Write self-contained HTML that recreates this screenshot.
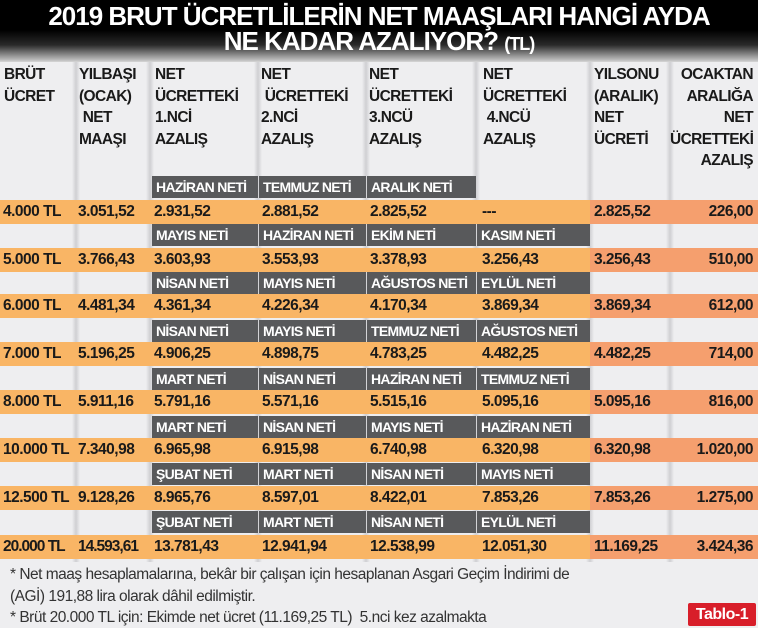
<!DOCTYPE html>
<html><head><meta charset="utf-8"><style>
*{margin:0;padding:0;box-sizing:border-box}
body{width:770px;height:628px;background:#fff;position:relative;overflow:hidden;font-family:"Liberation Sans Narrow","Liberation Sans","DejaVu Sans Condensed",sans-serif;font-weight:bold;color:#1a1a1a}
.a{position:absolute}
#bg{left:0;top:0;width:758px;height:628px;background:#eeeef0}
#title{left:0;top:0;width:758px;height:62px;background:linear-gradient(#000 0,#000 30px,#2a2a2a 45px,#bdbdbd 60px,#eeeef0 64px)}
.t{color:#fff;text-align:center;width:758px;font-size:26px;line-height:26px;letter-spacing:-1px}
.col{top:58px;height:504px}
.h{font-size:15.5px;line-height:21.5px;top:64px;letter-spacing:-0.6px}
.lab{background:#58595b;color:#fff;font-size:14px;height:22px;line-height:22px;padding-left:4px;white-space:nowrap;letter-spacing:-0.7px;overflow:hidden}
.or{background:#f9b565;height:24px;left:0;width:758px}
.sa{background:#f59f6e;height:24px}
.v{font-size:15.5px;line-height:24px;white-space:nowrap;letter-spacing:-0.5px}
.r{text-align:right}
.fn{font-weight:normal;font-size:15.5px;color:#333;line-height:21px;letter-spacing:-0.5px}
</style></head><body>
<div class="a" id="bg"></div>
<div class="a col" style="left:72px;width:8px;background:linear-gradient(90deg,#eeeef0,#cfcfd2,#eeeef0)"></div>
<div class="a col" style="left:146px;width:8px;background:linear-gradient(90deg,#eeeef0,#cfcfd2,#eeeef0)"></div>
<div class="a col" style="left:254px;width:8px;background:linear-gradient(90deg,#eeeef0,#cfcfd2,#eeeef0)"></div>
<div class="a col" style="left:362px;width:8px;background:linear-gradient(90deg,#eeeef0,#cfcfd2,#eeeef0)"></div>
<div class="a col" style="left:472px;width:8px;background:linear-gradient(90deg,#eeeef0,#cfcfd2,#eeeef0)"></div>
<div class="a col" style="left:586px;width:8px;background:linear-gradient(90deg,#eeeef0,#cfcfd2,#eeeef0)"></div>
<div class="a col" style="left:666px;width:8px;background:linear-gradient(90deg,#eeeef0,#cfcfd2,#eeeef0)"></div>
<div class="a" id="title"></div>
<div class="a t" style="top:3px">2019 BRUT ÜCRETLİLERİN NET MAAŞLARI HANGİ AYDA</div>
<div class="a t" style="top:28px">NE KADAR AZALIYOR? <span style="font-size:18px">(TL)</span></div>

<div class="a h" style="left:4px">BRÜT<br>ÜCRET</div>
<div class="a h" style="left:79px">YILBAŞI<br>(OCAK)<br>&nbsp;NET<br>MAAŞI</div>
<div class="a h" style="left:155px">NET<br>ÜCRETTEKİ<br>1.NCİ<br>AZALIŞ</div>
<div class="a h" style="left:261px">NET<br>&nbsp;ÜCRETTEKİ<br>2.NCİ<br>AZALIŞ</div>
<div class="a h" style="left:369px">NET<br>ÜCRETTEKİ<br>3.NCÜ<br>AZALIŞ</div>
<div class="a h" style="left:483px">NET<br>ÜCRETTEKİ<br>&nbsp;4.NCÜ<br>AZALIŞ</div>
<div class="a h" style="left:594px">YILSONU<br>(ARALIK)<br>NET<br>ÜCRETİ</div>
<div class="a h r" style="left:670px;width:83px">OCAKTAN<br>ARALIĞA<br>NET<br>ÜCRETTEKİ<br>AZALIŞ</div>

<div id="rows"></div>
<script>
var rows=[
["4.000 TL","3.051,52","2.931,52","2.881,52","2.825,52","---","2.825,52","226,00",["HAZİRAN NETİ","TEMMUZ NETİ","ARALIK NETİ",null]],
["5.000 TL","3.766,43","3.603,93","3.553,93","3.378,93","3.256,43","3.256,43","510,00",["MAYIS NETİ","HAZİRAN NETİ","EKİM NETİ","KASIM NETİ"]],
["6.000 TL","4.481,34","4.361,34","4.226,34","4.170,34","3.869,34","3.869,34","612,00",["NİSAN NETİ","MAYIS NETİ","AĞUSTOS NETİ","EYLÜL NETİ"]],
["7.000 TL","5.196,25","4.906,25","4.898,75","4.783,25","4.482,25","4.482,25","714,00",["NİSAN NETİ","MAYIS NETİ","TEMMUZ NETİ","AĞUSTOS NETİ"]],
["8.000 TL","5.911,16","5.791,16","5.571,16","5.515,16","5.095,16","5.095,16","816,00",["MART NETİ","NİSAN NETİ","HAZİRAN NETİ","TEMMUZ NETİ"]],
["10.000 TL","7.340,98","6.965,98","6.915,98","6.740,98","6.320,98","6.320,98","1.020,00",["MART NETİ","NİSAN NETİ","MAYIS NETİ","HAZİRAN NETİ"]],
["12.500 TL","9.128,26","8.965,76","8.597,01","8.422,01","7.853,26","7.853,26","1.275,00",["ŞUBAT NETİ","MART NETİ","NİSAN NETİ","MAYIS NETİ"]],
["20.000 TL","14.593,61","13.781,43","12.941,94","12.538,99","12.051,30","11.169,25","3.424,36",["ŞUBAT NETİ","MART NETİ","NİSAN NETİ","EYLÜL NETİ"]]];
var lt=[176,224,272,320,368,416,463,511],ot=[200,248,294,342,390,438,486,535];
var lx=[[152,258],[259,366],[367,476],[477,590]];
var vx=[3,78,154,262,370,482,594];
var h="";
rows.forEach(function(r,i){
 r[8].forEach(function(l,j){if(l)h+='<div class="a lab" style="top:'+lt[i]+'px;left:'+lx[j][0]+'px;width:'+(lx[j][1]-lx[j][0])+'px">'+l+'</div>';});
 h+='<div class="a or" style="top:'+ot[i]+'px"></div><div class="a sa" style="top:'+ot[i]+'px;left:590px;width:168px"></div>';
 for(var k=0;k<7;k++)h+='<div class="a v" style="top:'+ot[i]+'px;left:'+vx[k]+'px;'+(i==7&&k<2?'letter-spacing:-1px':'')+'">'+r[k]+'</div>';
 h+='<div class="a v r" style="top:'+ot[i]+'px;left:670px;width:83px">'+r[7]+'</div>';
});
document.getElementById("rows").innerHTML=h;
</script>
<div class="a fn" style="left:10px;top:564px">* Net maaş hesaplamalarına, bekâr bir çalışan için hesaplanan Asgari Geçim İndirimi de</div>
<div class="a fn" style="left:10px;top:586px">(AGİ) 191,88 lira olarak dâhil edilmiştir.</div>
<div class="a fn" style="left:10px;top:607px">* Brüt 20.000 TL için: Ekimde net ücret (11.169,25 TL)&nbsp; 5.nci kez azalmakta</div>
<div class="a" style="left:688px;top:603px;width:68px;height:23px;background:#d81e2a;color:#fff;font-size:16px;line-height:23px;text-align:center;border-radius:2px;letter-spacing:-0.5px">Tablo-1</div>
</body></html>
